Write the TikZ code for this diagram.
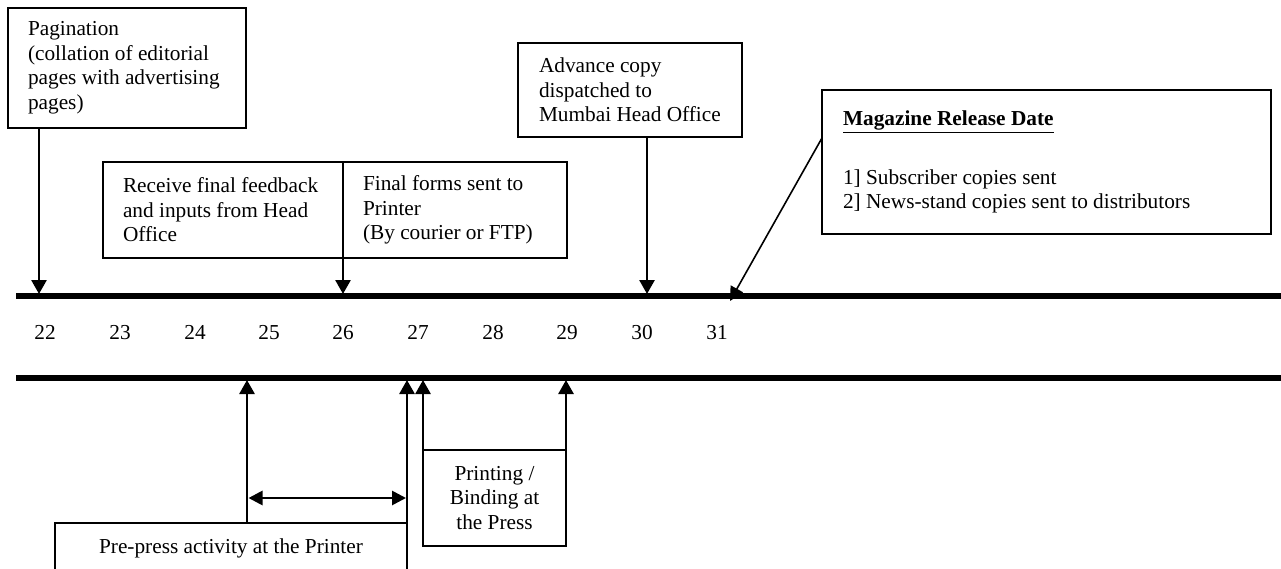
\documentclass[tikz,border=0pt]{standalone}
\usepackage{fontspec}
\setmainfont{Liberation Serif}
\usetikzlibrary{arrows.meta,calc}
\begin{document}
\begin{tikzpicture}[x=1pt,y=-1pt,
  every node/.style={font=\fontsize{21.3}{24.5}\selectfont},
  box/.style={draw, line width=1.5pt, outer sep=0pt, inner xsep=20pt, inner ysep=0pt, align=flush left},
  cbox/.style={draw, line width=1.5pt, outer sep=0pt, inner xsep=4pt, inner ysep=0pt, align=flush center},
  timeline/.style={line width=6pt},
  conn/.style={line width=2.7pt, -{Triangle[length=14pt,width=15pt]}},
  thinconn/.style={line width=1.6pt, -{Triangle[length=14pt,width=14pt]}},
  span/.style={line width=2.7pt, {Triangle[length=14pt,width=14pt]}-{Triangle[length=14pt,width=14pt]}},
  daynum/.style={inner sep=0pt, anchor=base}]
\useasboundingbox (0,0) rectangle (1281,569);
\clip (0,0) rectangle (1281,569);
% timelines
\coordinate (tl) at (16,296); \coordinate (tr) at (1281,296);
\coordinate (bl) at (16,378); \coordinate (br) at (1281,378);
\draw[timeline] (tl) -- (tr);
\draw[timeline] (bl) -- (br);
% day numbers
\foreach \n/\x in {22/45,23/120,24/195,25/269,26/343,27/418,28/493,29/567,30/642,31/717}
  \node[daynum] (d\n) at (\x,339) {\n};
% top boxes
\node[box, text width=198pt, minimum height=120pt] (pag) at (127,68)
  {Pagination\\(collation of editorial\\pages with advertising\\pages)};
\node[box, text width=200pt, minimum height=96pt] (rec) at (223,210)
  {Receive final feedback\\and inputs from Head\\Office};
\node[box, text width=184pt, minimum height=96pt] (fin) at (455,210)
  {Final forms sent to\\Printer\\(By courier or FTP)};
\node[box, inner xsep=21pt, text width=182pt, minimum height=94pt] (adv) at (630,90)
  {Advance copy\\dispatched to\\Mumbai Head Office};
\node[box, inner xsep=21pt, text width=407pt, minimum height=144pt] (mag) at (1046.5,162)
  {\underline{\textbf{Magazine Release Date}}\\[34pt]1] Subscriber copies sent\\2] News-stand copies sent to distributors};
% bottom boxes
\node[cbox, minimum width=352pt, minimum height=50pt] (pre) at (231,548)
  {Pre-press activity at the Printer};
\node[cbox, text width=135pt, minimum height=96pt] (prt) at (494.5,498)
  {Printing /\\Binding at\\the Press};
% top arrows
\coordinate (a22) at (39,294);
\draw[conn] (pag.south -| a22) -- (a22);
\coordinate (a26) at (343,294);
\draw[conn] (rec.north east) -- (a26);
\coordinate (a30) at (647,294);
\draw[conn] (adv.south -| a30) -- (a30);
\coordinate (a31) at (730,301);
\draw[thinconn] ($(mag.north west)!0.333!(mag.south west)$) -- (a31);
% bottom arrows
\coordinate (b1) at (247,380);
\draw[conn] (pre.north -| b1) -- (b1);
\coordinate (b2) at (407,380);
\draw[conn] (pre.south east) -- (b2);
\coordinate (b3) at (423,380);
\draw[conn] (prt.south west) -- (b3);
\coordinate (b4) at (566,380);
\draw[conn] (prt.south east) -- (b4);
\coordinate (h1) at (248.5,498);
\coordinate (h2) at (406,498);
\draw[span] (h1) -- (h2);
\end{tikzpicture}
\end{document}
